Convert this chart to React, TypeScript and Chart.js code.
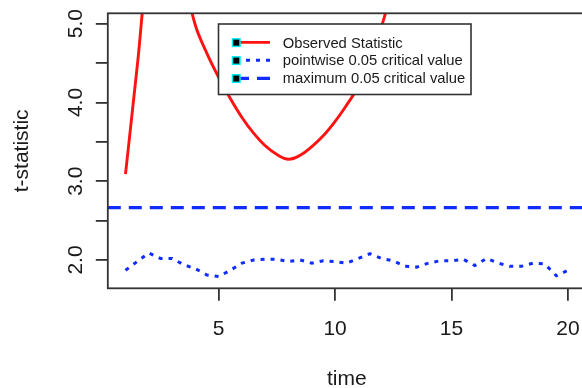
import React, { useEffect, useRef } from "react";
import { Chart, registerables } from "chart.js";

Chart.register(...registerables);

// Time grid shared by both curves
const TIME = [
  1, 1.5, 2, 2.5, 3, 3.5, 4, 4.5, 5, 5.5, 6, 6.5, 7, 7.5, 8, 8.5, 9, 9.5, 10, 10.5,
  11, 11.5, 12, 12.5, 13, 13.5, 14, 14.5, 15, 15.5, 16, 16.5, 17, 17.5, 18, 18.5, 19, 19.5, 20,
];

// Observed t-statistic at each time
const OBSERVED = [
  3.09, 4.45, 5.81, 6.3, 6.2, 5.6, 4.98, 4.62, 4.32, 4.05, 3.81, 3.61, 3.45, 3.34, 3.28, 3.33,
  3.44, 3.58, 3.76, 3.97, 4.2, 4.5, 4.97, 5.48, 5.98, 6.45, 6.88, 7.25, 7.58, 7.85, 8.07, 8.24,
  8.36, 8.43, 8.46, 8.45, 8.4, 8.32, 8.21,
];

// Pointwise 0.05 critical value at each time
const POINTWISE = [
  1.87, 1.98, 2.09, 2.02, 2.02, 1.94, 1.89, 1.81, 1.79, 1.87, 1.96, 2.0, 2.01, 2.01, 1.98, 2.0,
  1.96, 1.99, 1.98, 1.96, 2.02, 2.08, 2.02, 1.99, 1.92, 1.91, 1.96, 1.99, 1.99, 2.01, 1.93, 2.02,
  1.96, 1.92, 1.92, 1.96, 1.95, 1.8, 1.87,
];

// Maximum 0.05 critical value (a single level across the whole plot)
const MAX_CRITICAL = 2.665;

const SERIES_LABELS = [
  "Observed Statistic",
  "pointwise 0.05 critical value",
  "maximum 0.05 critical value",
];

const X_RANGE = [0.24, 20.76];
const Y_RANGE = [1.641, 5.132];
const X_TICKS = [5, 10, 15, 20];
const Y_TICKS = [2, 2.5, 3, 3.5, 4, 4.5, 5];
const Y_TICK_LABELS = ["2.0", "", "3.0", "", "4.0", "", "5.0"];
const X_TITLE = "time";
const Y_TITLE = "t-statistic";

const FONT = '"Liberation Sans", Arial, Helvetica, sans-serif';
const AXIS_COLOR = "#333333";
const TEXT_COLOR = "#1a1a1a";
const RED = "rgb(255, 18, 18)";
const BLUE = "rgb(16, 44, 255)";

const CANVAS_W = 600;
const CANVAS_H = 388;

// Frame, rotated y labels, axis titles and the boxed legend
const decorPlugin = {
  id: "decor",
  afterDatasetsDraw(chart: any) {
    const { ctx, chartArea: a, scales } = chart;
    ctx.save();

    // plot frame
    ctx.strokeStyle = AXIS_COLOR;
    ctx.lineWidth = 1.8;
    ctx.setLineDash([]);
    ctx.strokeRect(a.left, a.top, a.right - a.left, a.bottom - a.top);

    // y tick labels, parallel to the axis
    ctx.fillStyle = TEXT_COLOR;
    ctx.font = `21px ${FONT}`;
    ctx.textAlign = "center";
    ctx.textBaseline = "alphabetic";
    Y_TICKS.forEach((v, i) => {
      const lab = Y_TICK_LABELS[i];
      if (!lab) return;
      const py = scales.y.getPixelForValue(v);
      ctx.save();
      ctx.translate(a.left - 26, py);
      ctx.rotate(-Math.PI / 2);
      ctx.fillText(lab, 0, 0);
      ctx.restore();
    });

    // axis titles
    ctx.fillText(X_TITLE, (a.left + a.right) / 2, 385);
    ctx.save();
    ctx.translate(27.5, (a.top + a.bottom) / 2);
    ctx.rotate(-Math.PI / 2);
    ctx.fillText(Y_TITLE, 0, 0);
    ctx.restore();

    // legend box
    const box = { left: 218.5, top: 24, right: 471, bottom: 94.5 };
    ctx.fillStyle = "#ffffff";
    ctx.fillRect(box.left, box.top, box.right - box.left, box.bottom - box.top);
    ctx.strokeStyle = AXIS_COLOR;
    ctx.lineWidth = 1.6;
    ctx.strokeRect(box.left, box.top, box.right - box.left, box.bottom - box.top);

    chart.data.datasets.forEach((ds: any, i: number) => {
      const y = 42.4 + i * 17.95;
      ctx.strokeStyle = ds.borderColor;
      ctx.lineWidth = ds.borderWidth;
      ctx.lineCap = "butt";
      ctx.setLineDash(ds.borderDash || []);
      ctx.beginPath();
      ctx.moveTo(236, y);
      ctx.lineTo(270, y);
      ctx.stroke();
      ctx.setLineDash([]);

      ctx.fillStyle = "#000000";
      ctx.fillRect(232.5, y - 3.5, 7.5, 7.5);
      ctx.strokeStyle = "#00e8f0";
      ctx.lineWidth = 1.5;
      ctx.strokeRect(232.5, y - 3.5, 7.5, 7.5);

      ctx.fillStyle = TEXT_COLOR;
      ctx.font = `14.8px ${FONT}`;
      ctx.textAlign = "left";
      ctx.textBaseline = "alphabetic";
      ctx.fillText(ds.label, 282.7, y + 5.1);
    });

    ctx.restore();
  },
};

export default function App() {
  const canvasRef = useRef<HTMLCanvasElement | null>(null);

  useEffect(() => {
    const canvas = canvasRef.current;
    if (!canvas) return;

    const observed = TIME.map((t, i) => ({ x: t, y: OBSERVED[i] }));
    const pointwise = TIME.map((t, i) => ({ x: t, y: POINTWISE[i] }));
    const maximum = X_RANGE.map((t) => ({ x: t, y: MAX_CRITICAL }));

    const chart = new Chart(canvas, {
      type: "line",
      data: {
        datasets: [
          {
            label: SERIES_LABELS[0],
            data: observed,
            borderColor: RED,
            borderWidth: 2.9,
            pointRadius: 0,
            tension: 0.4,
            clip: 0,
            fill: false,
          },
          {
            label: SERIES_LABELS[1],
            data: pointwise,
            borderColor: BLUE,
            borderWidth: 3,
            borderDash: [4, 6],
            borderCapStyle: "butt",
            pointRadius: 0,
            tension: 0,
            clip: 0,
            fill: false,
          },
          {
            label: SERIES_LABELS[2],
            data: maximum,
            borderColor: BLUE,
            borderWidth: 3.2,
            borderDash: [13, 8],
            borderCapStyle: "butt",
            pointRadius: 0,
            tension: 0,
            clip: 0,
            fill: false,
          },
        ],
      },
      options: {
        animation: false,
        responsive: false,
        devicePixelRatio: 1,
        layout: { padding: { left: 0, right: CANVAS_W - 585.7, top: 13.3, bottom: 0 } },
        plugins: {
          legend: { display: false },
          tooltip: { enabled: false },
          title: { display: false },
        },
        scales: {
          x: {
            type: "linear",
            min: X_RANGE[0],
            max: X_RANGE[1],
            afterBuildTicks: (scale: any) => {
              scale.ticks = X_TICKS.map((v) => ({ value: v }));
            },
            afterFit: (scale: any) => {
              scale.height = CANVAS_H - 288.3;
            },
            ticks: {
              autoSkip: false,
              maxRotation: 0,
              minRotation: 0,
              padding: 16,
              color: TEXT_COLOR,
              font: { family: FONT, size: 21 },
              callback: (v: any) => String(v),
            },
            grid: {
              drawOnChartArea: false,
              drawTicks: true,
              tickLength: 12.5,
              color: AXIS_COLOR,
              lineWidth: 1.8,
            },
            border: { display: false },
          },
          y: {
            type: "linear",
            min: Y_RANGE[0],
            max: Y_RANGE[1],
            afterBuildTicks: (scale: any) => {
              scale.ticks = Y_TICKS.map((v) => ({ value: v }));
            },
            afterFit: (scale: any) => {
              scale.width = 107.8;
            },
            ticks: { display: false },
            grid: {
              drawOnChartArea: false,
              drawTicks: true,
              tickLength: 12,
              color: AXIS_COLOR,
              lineWidth: 1.8,
            },
            border: { display: false },
          },
        },
      },
      plugins: [decorPlugin],
    });

    return () => chart.destroy();
  }, []);

  return (
    <div
      style={{
        position: "fixed",
        left: 0,
        top: 0,
        width: 582,
        height: 388,
        overflow: "hidden",
        background: "#ffffff",
      }}
    >
      <canvas
        ref={canvasRef}
        width={CANVAS_W}
        height={CANVAS_H}
        style={{ display: "block", width: CANVAS_W, height: CANVAS_H }}
      />
    </div>
  );
}
